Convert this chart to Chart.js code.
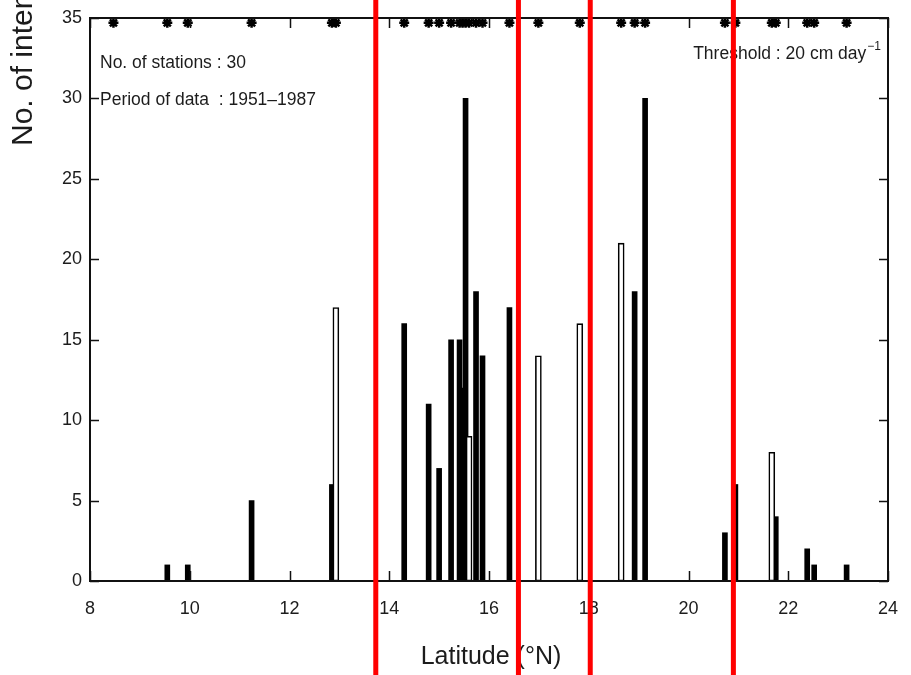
<!DOCTYPE html>
<html>
<head>
<meta charset="utf-8">
<script src="https://cdn.jsdelivr.net/npm/chart.js@4"></script>
<style>
html,body{margin:0;padding:0;background:#fff;}
canvas{display:block;}
</style>
</head>
<body>
<canvas id="c" width="911" height="675"></canvas>
<script>
// ---- data ----
const stationLat = [8.47, 9.55, 9.96, 11.24, 12.85, 12.93, 14.30, 14.79, 15.00, 15.24, 15.41, 15.47, 15.53, 15.60, 15.74, 15.87, 16.41, 16.99, 17.82, 18.65, 18.92, 19.13, 20.73, 20.94, 21.67, 21.75, 22.38, 22.52, 23.17];
const stationMarkLevel = 34.7;
const filledLat = [9.55, 9.96, 11.24, 12.85, 14.30, 14.79, 15.00, 15.24, 15.41, 15.47, 15.53, 15.74, 15.87, 16.41, 18.92, 19.13, 20.73, 20.94, 21.75, 22.38, 22.52, 23.17];
const filledCount = [1, 1, 5, 6, 16, 11, 7, 15, 15, 12, 30, 18, 14, 17, 18, 30, 3, 6, 4, 2, 1, 1];
const openLat = [12.93, 15.60, 16.99, 17.82, 18.65, 21.67];
const openCount = [17, 9, 14, 16, 21, 8];
const redLineLat = [13.73, 16.59, 18.03, 20.90];
const xTickValues = [8, 10, 12, 14, 16, 18, 20, 22, 24];
const yTickValues = [0, 5, 10, 15, 20, 25, 30, 35];
const xTitle = 'Latitude (°N)';
const yTitle = 'No. of intense rainfall events';
const noteStations = 'No. of stations : 30';
const notePeriod = 'Period of data  : 1951\u20131987';
const noteThreshold = 'Threshold : 20 cm day';
const noteThresholdSup = '\u22121';

const FONT = '"Liberation Sans", Arial, Helvetica, sans-serif';
const TXT = '#1c1c1c';

const framePlugin = {
  id: 'frame',
  afterDatasetsDraw(chart) {
    const ctx = chart.ctx, a = chart.chartArea;
    const xs = chart.scales.x, ys = chart.scales.y;
    ctx.save();
    ctx.strokeStyle = '#111';
    ctx.lineWidth = 1.5;
    ctx.beginPath();
    xTickValues.forEach(v => {
      const px = Math.round(xs.getPixelForValue(v)) + 0.5;
      ctx.moveTo(px, a.bottom); ctx.lineTo(px, a.bottom - 10);
      ctx.moveTo(px, a.top); ctx.lineTo(px, a.top + 10);
    });
    yTickValues.forEach(v => {
      const py = Math.round(ys.getPixelForValue(v)) + 0.5;
      ctx.moveTo(a.left, py); ctx.lineTo(a.left + 9, py);
      ctx.moveTo(a.right, py); ctx.lineTo(a.right - 9, py);
    });
    ctx.stroke();
    ctx.lineWidth = 2;
    ctx.strokeRect(a.left, a.top, a.right - a.left, a.bottom - a.top);
    ctx.restore();
  },
  afterDraw(chart) {
    const ctx = chart.ctx, a = chart.chartArea;
    const xs = chart.scales.x;
    ctx.save();
    ctx.fillStyle = TXT;
    // notes
    ctx.font = '17.5px ' + FONT;
    ctx.textBaseline = 'middle';
    ctx.textAlign = 'left';
    ctx.fillText(noteStations, a.left + 10, 63);
    ctx.fillText(notePeriod, a.left + 10, 100);
    ctx.font = '12px ' + FONT;
    const supW = ctx.measureText(noteThresholdSup).width;
    ctx.textAlign = 'right';
    ctx.fillText(noteThresholdSup, a.right - 7, 47);
    ctx.font = '17.5px ' + FONT;
    ctx.fillText(noteThreshold, a.right - 8 - supW, 54);
    // axis titles
    ctx.font = '25px ' + FONT;
    ctx.textAlign = 'center';
    ctx.textBaseline = 'alphabetic';
    ctx.fillText(xTitle, (a.left + a.right) / 2 + 2, 664);
    ctx.save();
    ctx.font = '30px ' + FONT;
    ctx.translate(32, 146);
    ctx.rotate(-Math.PI / 2);
    ctx.textAlign = 'left';
    ctx.fillText(yTitle, 0, 0);
    ctx.restore();
    // red vertical markers
    ctx.strokeStyle = '#ff0000';
    ctx.lineWidth = 5;
    ctx.beginPath();
    redLineLat.forEach(v => {
      const px = xs.getPixelForValue(v);
      ctx.moveTo(px, 0); ctx.lineTo(px, chart.height);
    });
    ctx.stroke();
    ctx.restore();
  }
};

new Chart(document.getElementById('c'), {
  type: 'bar',
  data: {
    datasets: [
      {
        type: 'bar',
        data: filledLat.map((x, i) => ({ x: x, y: filledCount[i] })),
        backgroundColor: '#000',
        borderWidth: 0,
        barThickness: 5,
        grouped: false,
        order: 3
      },
      {
        type: 'bar',
        data: openLat.map((x, i) => ({ x: x, y: openCount[i] })),
        backgroundColor: '#fff',
        borderColor: '#000',
        borderWidth: 1.6,
        borderSkipped: false,
        barThickness: 6,
        grouped: false,
        order: 2
      },
      {
        type: 'scatter',
        data: stationLat.map(x => ({ x: x, y: stationMarkLevel })),
        pointStyle: 'star',
        radius: 5,
        borderWidth: 2.5,
        borderColor: '#000',
        backgroundColor: '#000',
        order: 1
      }
    ]
  },
  options: {
    responsive: false,
    devicePixelRatio: 1,
    animation: false,
    layout: { padding: { top: 18, right: 23, left: 0, bottom: 0 } },
    plugins: { legend: { display: false }, tooltip: { enabled: false } },
    scales: {
      x: {
        type: 'linear',
        min: 8, max: 24,
        offset: false,
        afterBuildTicks(s) { s.ticks = xTickValues.map(v => ({ value: v })); },
        afterFit(s) { s.height = 94; s.paddingLeft = 0; s.paddingRight = 0; },
        grid: { display: false, drawTicks: false },
        border: { display: false },
        ticks: { padding: 17, color: TXT, font: { family: FONT, size: 18 }, maxRotation: 0 }
      },
      y: {
        min: 0, max: 35,
        afterBuildTicks(s) { s.ticks = yTickValues.map(v => ({ value: v })); },
        afterFit(s) { s.width = 90; s.paddingTop = 0; s.paddingBottom = 0; },
        grid: { display: false, drawTicks: false },
        border: { display: false },
        ticks: { padding: 8, color: TXT, font: { family: FONT, size: 18 } }
      }
    }
  },
  plugins: [framePlugin]
});
</script>
</body>
</html>
